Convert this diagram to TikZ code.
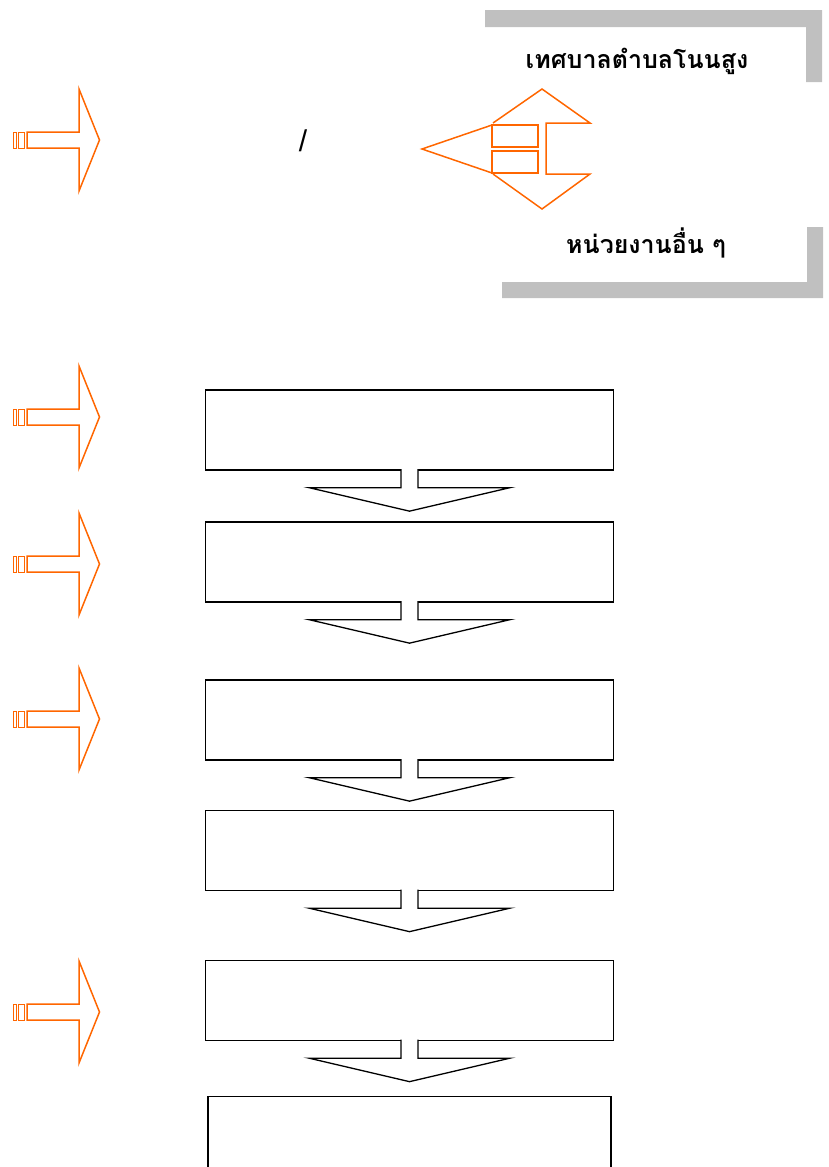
\documentclass[tikz,border=0pt]{standalone}
\usepackage{fontspec}
\newfontfamily\thaifont[Script=Thai]{Loma}
\newfontfamily\slashfont{Liberation Sans}
\usetikzlibrary{positioning}
\definecolor{arroworange}{RGB}{255,102,0}
\definecolor{bracketgray}{RGB}{192,192,192}

\begin{document}
\begin{tikzpicture}[x=1pt,y=1pt,
stage/.style={
rectangle,
draw,
line width=1.3pt,
minimum width=408pt,
minimum height=80pt
},
stepline/.style={
draw,
line width=1.3pt,
fill=white
},
orangeline/.style={
draw=arroworange,
line width=1.5pt
},
orgname/.style={
font=\thaifont\bfseries\fontsize{25}{29}\selectfont
}]
\useasboundingbox (0,0) rectangle (829,-1167);
% gray brackets
\fill[bracketgray] (485,-10) -- (822,-10) -- (822,-82) -- (806,-82) -- (806,-27) -- (485,-27) -- cycle;
\fill[bracketgray] (502,-298) -- (823,-298) -- (823,-227) -- (807,-227) -- (807,-282) -- (502,-282) -- cycle;
\node (tessaban) [orgname] at (637,-61) {เทศบาลตำบลโนนสูง};
\node (others) [orgname] at (646,-243) {หน่วยงานอื่น ๆ};
\node (slash) [font=\slashfont\fontsize{30}{34}\selectfont] at (303,-141) {/};
% left and up-down arrow
\draw[orangeline] (492,-125) -- (422,-149) -- (492,-173);
\draw[orangeline] (492,-125) rectangle (538,-147);
\draw[orangeline] (492,-151) rectangle (538,-173);
\draw[orangeline] (493,-123) -- (542,-89) -- (590,-123) -- (546,-123) -- (546,-174) -- (590,-174) -- (542,-209) -- (493,-174);
% side arrows
\foreach \c in {140,417,564,719,1012}{
\begin{scope}[shift={(0,-\c)}]
\draw[orangeline] (27,8) -- (79,8) -- (79,51) -- (99.5,0) -- (79,-51) -- (79,-8) -- (27,-8) -- cycle;
\draw[arroworange, line width=1pt] (13.5,8) rectangle (16.7,-8);
\draw[arroworange, line width=1pt] (18.7,8) rectangle (24.3,-8);
\end{scope}
}
% stages
\node (b1) [stage] at (409.5,-430) {};
\node (b2) [stage, below=50.7pt of b1] {};
\node (b3) [stage, below=76.7pt of b2] {};
\node (b4) [stage, below=49.2pt of b3] {};
\node (b5) [stage, below=68.7pt of b4] {};
\node (b6) [stage, below=54.7pt of b5, minimum width=403pt] {};
\foreach \s in {b1,b2,b3,b4,b5}
\filldraw[stepline] (\s.south) ++(-8.5,1.5) -- ++(0,-18.5) -- ++(-92,0) -- ++(100.5,-23.5) -- ++(100.5,23.5) -- ++(-92,0) -- ++(0,18.5);
\end{tikzpicture}
\end{document}
